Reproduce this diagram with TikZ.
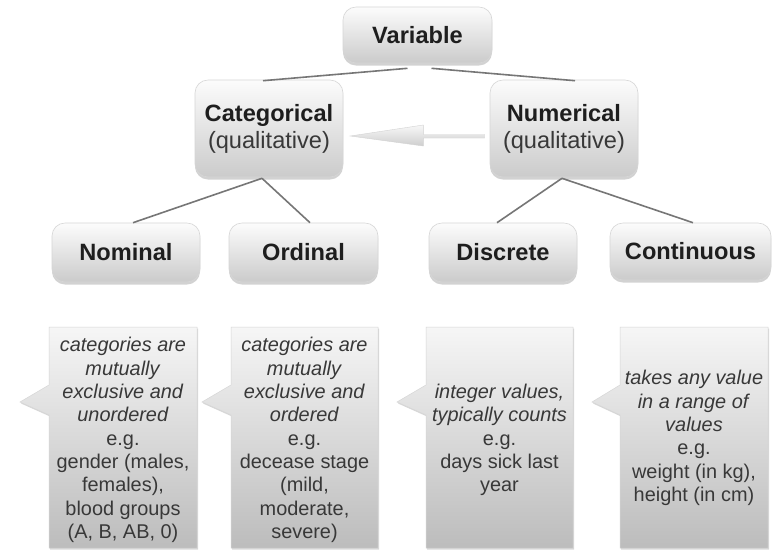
\documentclass[tikz,border=0pt]{standalone}
\usepackage{fontspec}
\setmainfont{Liberation Sans}
\usetikzlibrary{shadows,calc}
\definecolor{txt}{HTML}{1E1E1E}
\definecolor{soft}{HTML}{383838}
\definecolor{lnk}{HTML}{767676}
\definecolor{boxtop}{HTML}{FCFCFC}
\definecolor{boxbot}{HTML}{CBCBCB}
\definecolor{boxedge}{HTML}{D6D6D6}
\definecolor{bubtop}{HTML}{F6F6F6}
\definecolor{bubbot}{HTML}{BCBCBC}
\begin{document}
\begin{tikzpicture}[x=1pt,y=-1pt,
  cbox/.style={rounded corners=13pt, top color=boxtop, bottom color=boxbot,
    draw=boxedge, line width=0.6pt,
    drop shadow={opacity=0.35, shadow xshift=0pt, shadow yshift=-2.5pt},
    align=center, text=txt, font=\fontsize{23.6}{27}\selectfont\bfseries, inner sep=0pt},
  link/.style={draw=lnk, line width=1.6pt},
  bubble/.style={top color=bubtop, bottom color=bubbot, draw=boxedge, line width=0.5pt,
    drop shadow={opacity=0.3, shadow xshift=1pt, shadow yshift=-1.5pt}},
  note/.style={align=center, text=soft, font=\fontsize{19.9}{23.3}\selectfont, inner sep=0pt},
  arrowfill/.style={top color=gray!6, bottom color=gray!38, draw=gray!35, line width=0.4pt}
]
\fill[white] (0,0) rectangle (772,550);
\useasboundingbox (0,0) rectangle (772,550);

% main boxes
\node[cbox, minimum width=149pt, minimum height=56pt] (var) at (417.5,35) {Variable};
\node[cbox, minimum width=148pt, minimum height=97pt] (cat) at (269,128.5)
  {Categorical\\\textmd{\color{soft}(qualitative)}};
\node[cbox, minimum width=148pt, minimum height=97pt] (num) at (564,128.5)
  {Numerical\\\textmd{\color{soft}(qualitative)}};
\node[cbox, minimum width=148pt, minimum height=59pt] (nom) at (126,252.5) {Nominal};
\node[cbox, minimum width=149pt, minimum height=59pt] (ord) at (303.5,252.5) {Ordinal};
\node[cbox, minimum width=148pt, minimum height=59pt] (dis) at (503,252.5) {Discrete};
\node[cbox, minimum width=161pt, minimum height=57pt] (con) at (690.5,251.5) {Continuous};

% connectors
\draw[link] ($(var.south)+(-10,5)$) -- ($(cat.north)+(-6,1)$);
\draw[link] ($(var.south)+(14,5)$) -- ($(num.north)+(11,1)$);
\draw[link] ($(cat.south)+(-7,1)$) -- ($(nom.north)+(7,0)$);
\draw[link] ($(cat.south)+(-7,1)$) -- ($(ord.north)+(6.5,0)$);
\draw[link] ($(num.south)+(-2,1)$) -- ($(dis.north)+(-6,0)$);
\draw[link] ($(num.south)+(-2,1)$) -- ($(con.north)+(2.5,0)$);

% wide arrow from Numerical to Categorical
\coordinate (ta) at ($(cat.east)+(7,7.5)$);
\coordinate (tb) at ($(num.west)+(-5,7.5)$);
\path[arrowfill] (ta) -- ($(ta)+(73,-11)$) -- ($(ta)+(73,-1.5)$) -- ($(tb)+(0,-1.5)$)
  -- ($(tb)+(0,2)$) -- ($(ta)+(73,2)$) -- ($(ta)+(73,10)$) -- cycle;

% callouts
\path[bubble] (49,327) -- (197,327) -- (197,548) -- (49,548) -- (49,415) -- (20,402) -- (49,385) -- cycle;
\path[bubble] (231,327) -- (378,327) -- (378,548) -- (231,548) -- (231,415) -- (202,402) -- (231,385) -- cycle;
\path[bubble] (426,327) -- (573,327) -- (573,548) -- (426,548) -- (426,415) -- (397,402) -- (426,385) -- cycle;
\path[bubble] (620,327) -- (768,327) -- (768,548) -- (620,548) -- (620,415) -- (592,402) -- (620,385) -- cycle;

\node[note] (nomtxt) at (123,440) {\textit{categories are}\\\textit{mutually}\\\textit{exclusive and}\\\textit{unordered}\\e.g.\\gender (males,\\females),\\blood groups\\(A, B, AB, 0)};
\node[note] (ordtxt) at (304.5,440) {\textit{categories are}\\\textit{mutually}\\\textit{exclusive and}\\\textit{ordered}\\e.g.\\decease stage\\(mild,\\moderate,\\severe)};
\node[note] (distxt) at (499.5,440) {\textit{integer values,}\\\textit{typically counts}\\e.g.\\days sick last\\year};
\node[note] (contxt) at (694,438) {\textit{takes any value}\\\textit{in a range of}\\\textit{values}\\e.g.\\weight (in kg),\\height (in cm)};
\end{tikzpicture}
\end{document}
